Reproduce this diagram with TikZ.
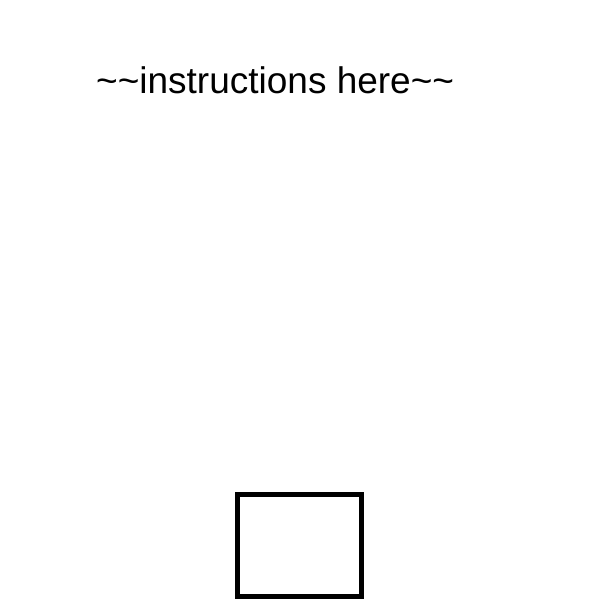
\documentclass[tikz,border=0pt]{standalone}
\usepackage{fontspec}
\setmainfont{Liberation Sans}
\begin{document}
\begin{tikzpicture}[x=1pt,y=-1pt,
  label/.style={font=\fontsize{37}{42}\selectfont, inner sep=0pt, anchor=base west},
  boxstyle/.style={draw=black, line width=5pt, minimum width=124pt, minimum height=102pt, inner sep=0pt}]
\useasboundingbox[fill=white] (0,0) rectangle (600,600);
\node[label] (title) at (96,93) {\char`\~\char`\~instructions here\char`\~\char`\~};
\node[boxstyle] (box) at (299.5,545.5) {};
\end{tikzpicture}
\end{document}
